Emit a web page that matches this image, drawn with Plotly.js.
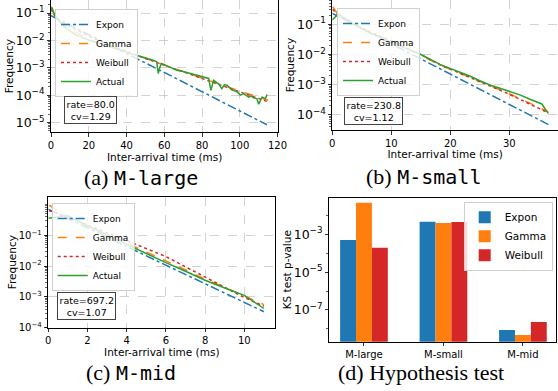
<!DOCTYPE html>
<html>
<head>
<meta charset="utf-8">
<script src="https://cdn.plot.ly/plotly-3.0.1.min.js"></script>
<style>html,body{margin:0;padding:0;background:#fff;}#chart{width:558px;height:391px;}</style>
</head>
<body>
<div id="chart"></div>
<script>
// ---------- Panel (a) M-large ----------
const tA_expon = [0, 57.8, 114.4];
const fA_expon = [0.08, 8.1e-4, 8.3e-6];
const tA_gamma = [0.2, 1, 2, 5, 10, 15, 20, 30, 40, 50, 60, 70, 80, 90, 100, 110, 115];
const fA_gamma = [0.17, 0.112, 0.079, 0.047, 0.026, 0.0166, 0.0107, 6.0e-3, 3.7e-3, 2.24e-3, 1.26e-3, 7.2e-4, 4.2e-4, 2.4e-4, 1.41e-4, 8.5e-5, 6.5e-5];
const tA_weib = [0.2, 1, 2, 5, 10, 15, 20, 30, 40, 50, 60, 70, 80, 90, 100, 110, 115];
const fA_weib = [0.14, 0.1, 0.08, 0.052, 0.032, 0.021, 0.0145, 7.2e-3, 3.9e-3, 2.2e-3, 1.25e-3, 7.2e-4, 4.1e-4, 2.35e-4, 1.35e-4, 7.8e-5, 5.7e-5];
const tA_act = [0, 0.6, 1.2, 2, 3, 4.6, 6, 8.1, 10.5, 13.4, 16.5, 19.6, 22.5, 25.8, 29, 32.9, 36, 39.6, 43, 47, 50.5, 54.1, 56, 56.8, 57.8, 58.6, 61, 64, 66.7, 69, 72, 75.5, 77, 79.1, 81.5, 83.5, 84.7, 86.1, 88, 88.8, 90.5, 91.8, 93.2, 95.8, 97.6, 99, 100.3, 102.1, 104.7, 106, 107.3, 109.1, 110.0, 111.8, 113.6, 114.4];
const fA_act = [0.129, 0.158, 0.112, 0.085, 0.066, 0.048, 0.037, 0.0275, 0.021, 0.0155, 0.0126, 0.0102, 8.9e-3, 7.8e-3, 6.8e-3, 5.9e-3, 4.8e-3, 3.8e-3, 3.16e-3, 2.63e-3, 2.29e-3, 1.9e-3, 1.66e-3, 6.2e-4, 1.12e-3, 1.45e-3, 1.2e-3, 9.5e-4, 8.1e-4, 7.6e-4, 6.6e-4, 5.9e-4, 5.5e-4, 4.9e-4, 4.5e-4, 4.1e-4, 1.5e-4, 3.5e-4, 2.8e-4, 2.6e-4, 1.74e-4, 2.4e-4, 2.3e-4, 1.58e-4, 1.41e-4, 1.26e-4, 1.0e-4, 1.15e-4, 8.5e-5, 9.3e-5, 8.1e-5, 7.4e-5, 4.7e-5, 8.5e-5, 7.4e-5, 1.05e-4];

// ---------- Panel (b) M-small ----------
const tB_expon = [0, 18.25, 36.8];
const fB_expon = [0.23, 3.4e-3, 4.6e-5];
const tB_gamma = [0.05, 1, 2, 5, 10, 15, 18.25, 23.9, 29.6, 36.6];
const fB_gamma = [0.38, 0.209, 0.151, 0.074, 0.0269, 9.5e-3, 4.47e-3, 1.62e-3, 5.5e-4, 1.26e-4];
const tB_weib = [0.05, 1, 2, 5, 10, 15, 18.25, 23.9, 29.6, 36.6];
const fB_weib = [0.316, 0.2, 0.145, 0.074, 0.0282, 0.01, 4.57e-3, 1.58e-3, 5.25e-4, 1.17e-4];
const tB_act = [0, 1.0, 2, 3, 4.4, 6, 8, 10, 11.5, 13.4, 15, 16.7, 18.25, 19.95, 21.6, 23.3, 25.0, 26.7, 28.4, 29.8, 31.8, 33.5, 35.5, 36.6];
const fB_act = [0.138, 0.219, 0.166, 0.126, 0.083, 0.0575, 0.038, 0.0257, 0.019, 0.0135, 0.01, 6.8e-3, 4.7e-3, 3.47e-3, 2.69e-3, 1.95e-3, 1.35e-3, 9.8e-4, 7.6e-4, 6.3e-4, 4.6e-4, 3.3e-4, 2.3e-4, 1.12e-4];

// ---------- Panel (c) M-mid ----------
const tC_expon = [0, 11];
const fC_expon = [0.70, 3.3e-4];
const tC_gamma = [0.05, 0.5, 1, 2, 4, 6, 8, 10, 11];
const fC_gamma = [0.95, 0.6, 0.40, 0.21, 0.055, 0.0148, 3.8e-3, 1.07e-3, 5.6e-4];
const tC_weib = [0.05, 0.5, 1, 2, 3, 4, 6, 8, 10, 11];
const fC_weib = [0.63, 0.52, 0.40, 0.214, 0.117, 0.0676, 0.0204, 4.4e-3, 9.5e-4, 5.0e-4];
const tC_act = [0, 1, 2, 3, 4, 5, 6, 7, 8, 9, 10, 11];
const fC_act = [0.355, 0.437, 0.20, 0.10, 0.05, 0.0263, 0.0129, 6.8e-3, 3.47e-3, 1.95e-3, 1.12e-3, 4.2e-4];
const cTickVals = [1e-4, 1e-3, 1e-2, 1e-1];
const cTickText = ['10<sup>\u22124</sup>', '10<sup>\u22123</sup>', '10<sup>\u22122</sup>', '10<sup>\u22121</sup>'];

// ---------- Panel (d) Hypothesis test ----------
const models = ['M-large', 'M-small', 'M-mid'];
const pExpon = [5.0e-4, 4.6e-3, 8.7e-9];
const pGamma = [4.7e-2, 4.0e-3, 4.7e-9];
const pWeibull = [1.95e-4, 4.5e-3, 2.3e-8];

const rateText = ['rate=80.0<br>cv=1.29', 'rate=230.8<br>cv=1.12', 'rate=697.2<br>cv=1.07'];

const C = {expon:'#1f77b4', gamma:'#ff7f0e', weib:'#d62728', act:'#2ca02c'};
const FONT = 'DejaVu Sans, sans-serif';

function lineSet(suffix, legendName, t1,f1,t2,f2,t3,f3,t4,f4){
  const xa = 'x'+suffix, ya = 'y'+suffix;
  return [
    {x:t1, y:f1, name:'Expon', mode:'lines', line:{color:C.expon, width:1.5, dash:'dashdot'}, xaxis:xa, yaxis:ya, legend:legendName},
    {x:t2, y:f2, name:'Gamma', mode:'lines', line:{color:C.gamma, width:1.5, dash:'dash'}, xaxis:xa, yaxis:ya, legend:legendName},
    {x:t3, y:f3, name:'Weibull', mode:'lines', line:{color:C.weib, width:1.5, dash:'dot'}, xaxis:xa, yaxis:ya, legend:legendName},
    {x:t4, y:f4, name:'Actual', mode:'lines', line:{color:C.act, width:1.5}, xaxis:xa, yaxis:ya, legend:legendName}
  ];
}

const traces = [].concat(
  lineSet('', 'legend', tA_expon,fA_expon,tA_gamma,fA_gamma,tA_weib,fA_weib,tA_act,fA_act),
  lineSet('2', 'legend2', tB_expon,fB_expon,tB_gamma,fB_gamma,tB_weib,fB_weib,tB_act,fB_act),
  lineSet('3', 'legend3', tC_expon,fC_expon,tC_gamma,fC_gamma,tC_weib,fC_weib,tC_act,fC_act),
  [
    {type:'bar', x:models, y:pExpon, name:'Expon', marker:{color:C.expon}, xaxis:'x4', yaxis:'y4', legend:'legend4'},
    {type:'bar', x:models, y:pGamma, name:'Gamma', marker:{color:C.gamma}, xaxis:'x4', yaxis:'y4', legend:'legend4'},
    {type:'bar', x:models, y:pWeibull, name:'Weibull', marker:{color:C.weib}, xaxis:'x4', yaxis:'y4', legend:'legend4'}
  ]
);

const W = 558, H = 391;
const px = v => v / W;
const py = v => 1 - v / H;

function baseAxis(extra){
  return Object.assign({
    showline:true, mirror:true, linecolor:'black', linewidth:1,
    ticks:'outside', ticklen:3.5, tickwidth:0.8, tickcolor:'black',
    tickfont:{family:FONT, size:10, color:'black'},
    showgrid:true, gridcolor:'rgba(176,176,176,0.7)', gridwidth:0.8, griddash:'dash',
    zeroline:false, automargin:false
  }, extra);
}
const minorLog = {ticks:'outside', ticklen:2, tickwidth:0.6, tickcolor:'black', showgrid:false, dtick:'D1'};
const xTitle = {text:'Inter-arrival time (ms)', font:{family:FONT, size:10.5, color:'black'}, standoff:1};
const yTitle = {text:'Frequency', font:{family:FONT, size:10.5, color:'black'}, standoff:0};

function legendAt(x, y, xanchor, yanchor, size){
  return {x:x, y:y, xanchor:xanchor, yanchor:yanchor, font:{family:FONT, size:size, color:'black'},
    bgcolor:'rgba(255,255,255,0.82)', bordercolor:'#cfcfcf', borderwidth:1, traceorder:'normal'};
}

function rateBox(xc, yc, text){
  return {xref:'paper', yref:'paper', x:xc, y:yc, xanchor:'center', yanchor:'middle', text:text,
    showarrow:false, align:'center', font:{family:FONT, size:9.5, color:'black'},
    bordercolor:'#444', borderwidth:1, borderpad:1.5, bgcolor:'white'};
}
function caption(xc, yc, label, mono){
  let t = label;
  if (mono) t += ' <span style="font-family:\'DejaVu Sans Mono\', monospace; font-size:20px">' + mono + '</span>';
  return {xref:'paper', yref:'paper', x:xc, y:yc, xanchor:'center', yanchor:'middle', text:t, showarrow:false,
    font:{family:'Liberation Serif, Times New Roman, serif', size:22, color:'black'}};
}

const layout = {
  width:W, height:H, margin:{l:0, r:0, t:0, b:0},
  paper_bgcolor:'white', plot_bgcolor:'white',
  barmode:'group', bargap:0.4, bargroupgap:0,
  showlegend:true,
  xaxis: baseAxis({domain:[px(51), px(278.3)], range:[0, 120.4], dtick:20, title:xTitle, anchor:'y'}),
  yaxis: baseAxis({domain:[py(132.3), 1], type:'log', range:[-5.355, -0.524], dtick:1, exponentformat:'power', minor:minorLog, title:yTitle, anchor:'x'}),
  xaxis2: baseAxis({domain:[px(332.3), 1], range:[0, 38.25], dtick:10, title:xTitle, anchor:'y2'}),
  yaxis2: baseAxis({domain:[py(130), 1], type:'log', range:[-4.50, -0.195], dtick:1, exponentformat:'power', minor:minorLog, title:yTitle, anchor:'x2'}),
  xaxis3: baseAxis({domain:[px(48.3), px(275.3)], range:[0, 11.58], dtick:2, title:xTitle, anchor:'y3'}),
  yaxis3: baseAxis({domain:[py(327.7), py(196.7)], type:'log', range:[-4, 0.253], tickmode:'array', tickvals:cTickVals, ticktext:cTickText, minor:minorLog, title:yTitle, anchor:'x3'}),
  xaxis4: baseAxis({domain:[px(329), px(556.3)], range:[-0.44, 2.42], showgrid:false, anchor:'y4'}),
  yaxis4: baseAxis({domain:[py(341.7), py(197.7)], type:'log', range:[-8.68, -1.06], dtick:2, tick0:-1, exponentformat:'power', showgrid:false,
    minor:{ticks:'outside', ticklen:2, tickwidth:0.6, tickcolor:'black', showgrid:false, dtick:1},
    title:{text:'KS test p-value', font:{family:FONT, size:10.5, color:'black'}, standoff:0}, anchor:'x4'}),
  legend: legendAt(px(55), py(97), 'left', 'bottom', 9),
  legend2: legendAt(px(337), py(96), 'left', 'bottom', 9),
  legend3: legendAt(px(51.7), py(291), 'left', 'bottom', 9),
  legend4: legendAt(px(552.7), py(201.7), 'right', 'top', 10.5),
  annotations: [
    rateBox(px(90.8), py(110), rateText[0]),
    rateBox(px(373.7), py(111), rateText[1]),
    rateBox(px(86.7), py(306), rateText[2]),
    caption(px(141), py(177), '(a)', 'M-large'),
    caption(px(423.5), py(176), '(b)', 'M-small'),
    caption(px(131), py(372.5), '(c)', 'M-mid'),
    caption(px(421), py(372.5), '(d) Hypothesis test', null)
  ]
};

Plotly.newPlot('chart', traces, layout, {staticPlot:true, displayModeBar:false});
</script>
</body>
</html>
